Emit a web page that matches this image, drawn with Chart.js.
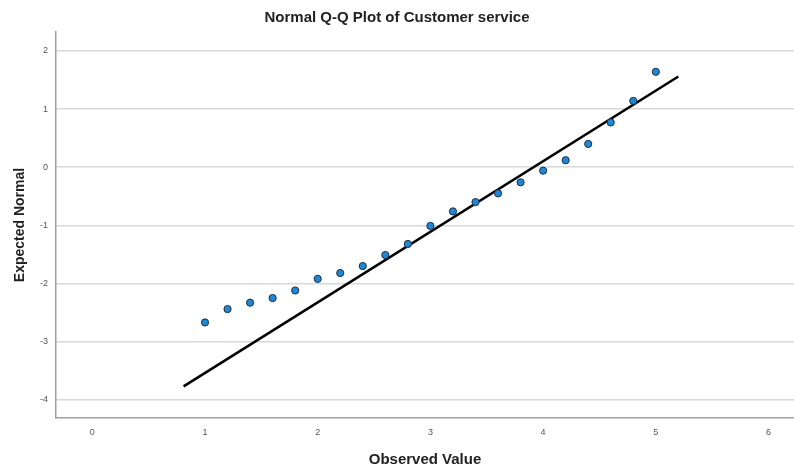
<!DOCTYPE html>
<html>
<head>
<meta charset="utf-8">
<script src="https://cdn.jsdelivr.net/npm/chart.js@4/dist/chart.umd.min.js"></script>
<style>
  html, body { margin: 0; padding: 0; background: #ffffff; }
  #wrap { width: 794px; height: 470px; }
</style>
</head>
<body>
<div id="wrap"><canvas id="c" width="794" height="470"></canvas></div>
<script>
// Observed values (x) and expected normal quantiles (y)
const observedValues = [1.0, 1.2, 1.4, 1.6, 1.8, 2.0, 2.2, 2.4, 2.6, 2.8, 3.0, 3.2, 3.4, 3.6, 3.8, 4.0, 4.2, 4.4, 4.6, 4.8, 5.0];
const expectedNormal = [-2.67, -2.44, -2.33, -2.25, -2.12, -1.92, -1.82, -1.70, -1.51, -1.32, -1.01, -0.76, -0.60, -0.45, -0.26, -0.06, 0.12, 0.40, 0.77, 1.14, 1.64];
// Reference line end points
const refLineX = [0.81, 5.20];
const refLineY = [-3.77, 1.56];
// Axis ranges / ticks
const xTicks = [0, 1, 2, 3, 4, 5, 6];
const yTicks = [-4, -3, -2, -1, 0, 1, 2];
const xRange = [-0.322, 6.226];
const yRange = [-4.313, 2.325];

const titleText = 'Normal Q-Q Plot of Customer service';
const xTitle = 'Observed Value';
const yTitle = 'Expected Normal';

const pointData = observedValues.map((x, i) => ({ x: x, y: expectedNormal[i] }));
const lineData = refLineX.map((x, i) => ({ x: x, y: refLineY[i] }));

const FONT = 'Liberation Sans, Arial, sans-serif';

new Chart(document.getElementById('c'), {
  type: 'scatter',
  data: {
    datasets: [
      {
        label: 'Observed',
        data: pointData,
        order: 0,
        pointRadius: 3.6,
        pointHoverRadius: 3.6,
        pointBackgroundColor: '#2186d4',
        pointBorderColor: '#1a2f45',
        pointBorderWidth: 1,
        showLine: false
      },
      {
        label: 'Reference',
        type: 'line',
        data: lineData,
        order: 1,
        borderColor: '#000000',
        borderWidth: 2.6,
        pointRadius: 0,
        fill: false,
        tension: 0
      }
    ]
  },
  options: {
    responsive: false,
    animation: false,
    devicePixelRatio: 1,
    layout: { padding: 0, autoPadding: false },
    plugins: {
      legend: { display: false },
      tooltip: { enabled: false },
      title: {
        display: true,
        text: titleText,
        color: '#222222',
        font: { family: FONT, size: 15, weight: 'bold', lineHeight: 1.2 },
        padding: { top: 9, bottom: 5 }
      }
    },
    scales: {
      x: {
        type: 'linear',
        min: xRange[0],
        max: xRange[1],
        afterFit: (s) => { s.height = 52; s.paddingLeft = 0; s.paddingRight = 0; },
        afterBuildTicks: (s) => { s.ticks = xTicks.map(v => ({ value: v })); },
        ticks: {
          includeBounds: false,
          color: '#555555',
          font: { family: FONT, size: 9 },
          padding: 9,
          maxRotation: 0,
          callback: (v) => String(v)
        },
        grid: { display: true, color: 'rgba(0,0,0,0)', drawTicks: false },
        border: { display: true, color: '#a0a0a0', width: 1.5 },
        title: {
          display: true,
          text: xTitle,
          color: '#222222',
          font: { family: FONT, size: 15, weight: 'bold', lineHeight: 1.2 },
          padding: { top: 0, bottom: 1 }
        }
      },
      y: {
        type: 'linear',
        min: yRange[0],
        max: yRange[1],
        afterFit: (s) => { s.width = 56; s.paddingTop = 0; s.paddingBottom = 0; },
        afterBuildTicks: (s) => { s.ticks = yTicks.map(v => ({ value: v })); },
        ticks: {
          includeBounds: false,
          color: '#555555',
          font: { family: FONT, size: 9 },
          padding: 8,
          callback: (v) => String(v)
        },
        grid: { display: true, color: '#d8d8d8', lineWidth: 1.6, drawTicks: false },
        border: { display: true, color: '#a0a0a0', width: 1.5 },
        title: {
          display: true,
          text: yTitle,
          color: '#222222',
          font: { family: FONT, size: 14, weight: 'bold', lineHeight: 1.2 },
          padding: { top: 12, bottom: 0 }
        }
      }
    }
  }
});
</script>
</body>
</html>
